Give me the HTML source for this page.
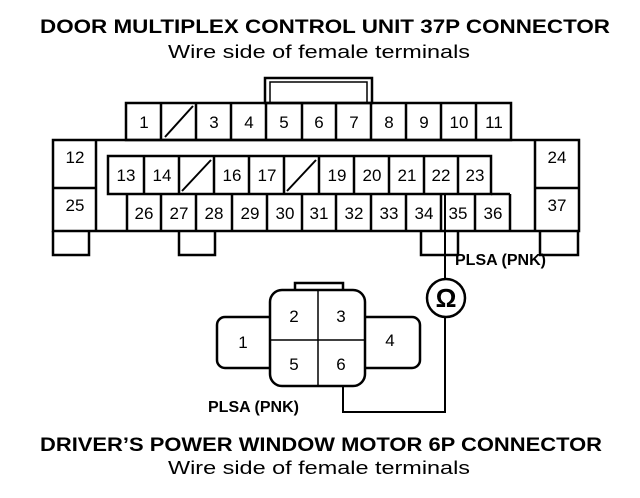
<!DOCTYPE html>
<html><head><style>body{margin:0;background:#fff}svg{display:block}</style></head>
<body>
<svg width="640" height="498" viewBox="0 0 640 498" xmlns="http://www.w3.org/2000/svg" font-family="Liberation Sans, sans-serif">
<rect width="640" height="498" fill="#fff"/>
<g font-weight="bold" font-size="19" text-anchor="start">
<text x="40" y="33" textLength="570" lengthAdjust="spacingAndGlyphs">DOOR MULTIPLEX CONTROL UNIT 37P CONNECTOR</text>
<text x="40" y="451" textLength="562" lengthAdjust="spacingAndGlyphs">DRIVER’S POWER WINDOW MOTOR 6P CONNECTOR</text>
</g>
<g font-size="18">
<text x="168" y="58" textLength="302" lengthAdjust="spacingAndGlyphs">Wire side of female terminals</text>
<text x="168" y="474" textLength="302" lengthAdjust="spacingAndGlyphs">Wire side of female terminals</text>
</g>
<g fill="none" stroke="#000" stroke-width="2.5">
<rect x="265" y="78" width="107" height="25"/>
<rect x="270" y="82" width="97" height="21" stroke-width="1.5"/>
<rect x="53" y="140" width="526" height="91"/>
<rect x="126" y="103" width="385" height="37"/>
<path d="M161 103V140M196 103V140M231 103V140M266 103V140M302 103V140M336 103V140M371 103V140M406 103V140M441 103V140M476 103V140"/>
<path d="M165 137L193 106" stroke-width="2"/>
<path d="M96 140V231M53 188H96M535 140V231M535 188H579"/>
<rect x="108" y="156" width="383" height="38"/>
<path d="M144 156V194M179 156V194M214 156V194M249 156V194M284 156V194M319 156V194M354 156V194M389 156V194M424 156V194M458 156V194"/>
<path d="M182 191L211 160M287 191L316 160" stroke-width="2"/>
<path d="M127 194V231M510 194V231M491 194H510"/>
<path d="M161 194V231M196 194V231M232 194V231M267 194V231M302 194V231M336 194V231M371 194V231M406 194V231M441 194V231M475 194V231"/>
<path d="M53 231V255H89V231M179 231V255H215V231M421 231V255H458V231M540 231V255H578V231"/>
<path d="M445 194V279M445 317V412H343V386" stroke-width="2"/>
<circle cx="446" cy="298" r="19" stroke-width="2.5"/>
<rect x="217" y="317" width="60" height="51" rx="8"/>
<rect x="358" y="317" width="62" height="51" rx="8"/>
<rect x="295" y="283" width="48" height="9" fill="#fff"/>
<rect x="270" y="290" width="95" height="96" rx="12" fill="#fff"/>
<path d="M318 290V386M270 340H365" stroke-width="1.5"/>
</g>
<text x="446" y="307" font-size="26" text-anchor="middle" font-weight="bold">Ω</text>
<g font-size="17" text-anchor="middle">
<text x="144" y="128">1</text><text x="214" y="128">3</text><text x="249" y="128">4</text><text x="284" y="128">5</text><text x="319" y="128">6</text><text x="354" y="128">7</text><text x="389" y="128">8</text><text x="424" y="128">9</text><text x="459" y="128">10</text><text x="494" y="128">11</text>
<text x="75" y="163">12</text><text x="75" y="211">25</text><text x="557" y="163">24</text><text x="557" y="211">37</text>
<text x="126" y="181">13</text><text x="162" y="181">14</text><text x="232" y="181">16</text><text x="267" y="181">17</text><text x="337" y="181">19</text><text x="372" y="181">20</text><text x="407" y="181">21</text><text x="441" y="181">22</text><text x="475" y="181">23</text>
<text x="144" y="219">26</text><text x="179" y="219">27</text><text x="214" y="219">28</text><text x="250" y="219">29</text><text x="285" y="219">30</text><text x="319" y="219">31</text><text x="354" y="219">32</text><text x="389" y="219">33</text><text x="424" y="219">34</text><text x="458" y="219">35</text><text x="493" y="219">36</text>
<text x="243" y="348">1</text><text x="294" y="322">2</text><text x="341" y="322">3</text><text x="390" y="346">4</text><text x="294" y="370">5</text><text x="341" y="370">6</text>
</g>
<g font-weight="bold" font-size="16">
<text x="455" y="265">PLSA (PNK)</text>
<text x="208" y="412">PLSA (PNK)</text>
</g>
</svg>
</body></html>
